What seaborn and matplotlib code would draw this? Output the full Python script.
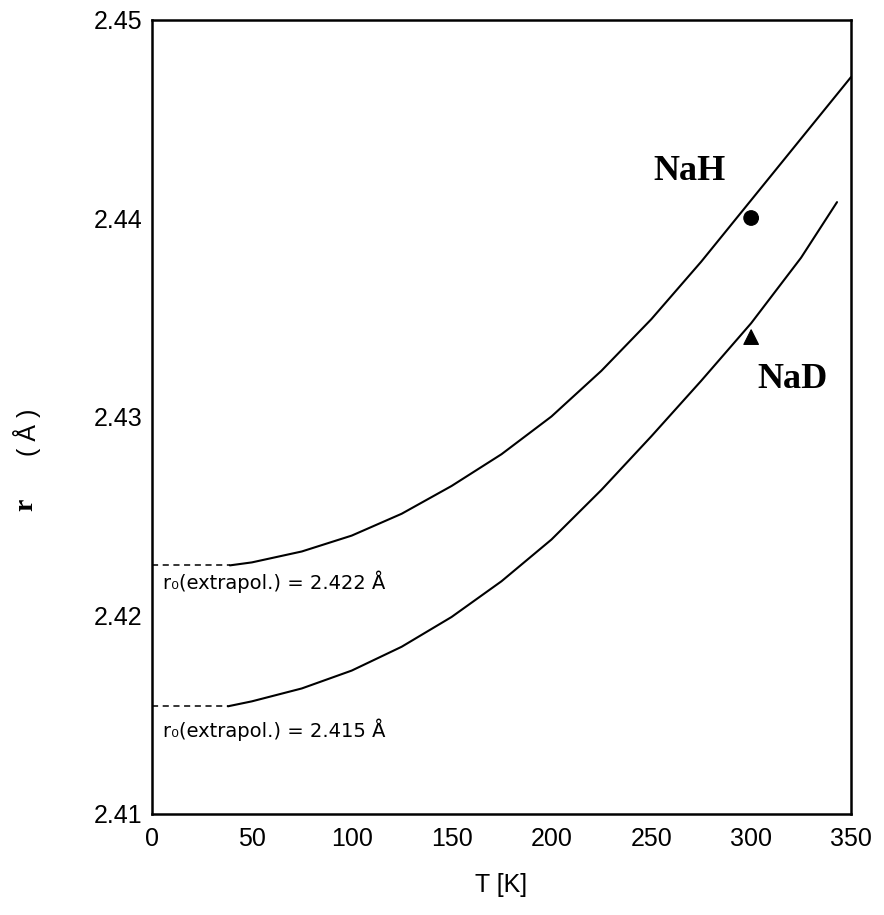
import numpy as np
import pandas as pd
import matplotlib
matplotlib.use("Agg")
import matplotlib.pyplot as plt
import seaborn as sns

# ---- data ----
T_nah = [39, 50, 75, 100, 125, 150, 175, 200, 225, 250, 275, 300, 325, 350]
r_nah = [2.4225, 2.42265, 2.4232, 2.4240, 2.4251, 2.4265, 2.4281, 2.4300,
         2.4323, 2.4349, 2.4378, 2.4409, 2.4440, 2.4471]
T_nad = [38, 50, 75, 100, 125, 150, 175, 200, 225, 250, 275, 300, 325, 343]
r_nad = [2.4154, 2.41565, 2.4163, 2.4172, 2.4184, 2.4199, 2.4217, 2.4238,
         2.4263, 2.4290, 2.4318, 2.4347, 2.4380, 2.4408]
T_ext_nah = [0, 39]
r_ext_nah = [2.4225, 2.4225]
T_ext_nad = [0, 38]
r_ext_nad = [2.4154, 2.4154]
T_exp = [300, 300]
r_exp = [2.4400, 2.4340]
exp_labels = ["NaH", "NaD"]
x_ticks = [0, 50, 100, 150, 200, 250, 300, 350]
y_ticks = [2.41, 2.42, 2.43, 2.44, 2.45]

sns.set_theme(style="white")
plt.rcParams['font.family'] = ['Liberation Sans', 'DejaVu Sans']

fig = plt.figure(figsize=(8.84, 9.15), dpi=100)
ax = fig.add_axes([152/884, 1-813.5/915, 699/884, 794/915])

df_nah = pd.DataFrame({"T": T_nah, "r": r_nah})
df_nad = pd.DataFrame({"T": T_nad, "r": r_nad})
sns.lineplot(data=df_nah, x="T", y="r", ax=ax, color="black", lw=1.5, sort=False)
sns.lineplot(data=df_nad, x="T", y="r", ax=ax, color="black", lw=1.5, sort=False)
sns.lineplot(x=T_ext_nah, y=r_ext_nah, ax=ax, color="black", lw=1.1,
             linestyle=(0, (4, 3)))
sns.lineplot(x=T_ext_nad, y=r_ext_nad, ax=ax, color="black", lw=1.1,
             linestyle=(0, (4, 3)))
df_exp = pd.DataFrame({"T": T_exp, "r": r_exp, "s": exp_labels})
sns.scatterplot(data=df_exp, x="T", y="r", style="s", markers={"NaH": "o", "NaD": "^"},
                color="black", s=110, ax=ax, legend=False, edgecolor="black")

ax.set_xlim(0, 350)
ax.set_ylim(2.41, 2.45)
ax.set_xticks(x_ticks)
ax.set_yticks(y_ticks)
ax.set_xticklabels([str(t) for t in x_ticks])
ax.set_yticklabels([f"{t:.2f}" for t in y_ticks])
ax.tick_params(axis="both", direction="in", length=9, width=1.4, labelsize=18,
               color="black", labelcolor="black")
ax.tick_params(axis="x", pad=10)
ax.tick_params(axis="y", pad=7)
for sp in ax.spines.values():
    sp.set_visible(True)
    sp.set_color("black")
    sp.set_linewidth(1.8)

ax.set_xlabel("T [K]", fontsize=18, color="black")
ax.xaxis.set_label_coords(0.5, -0.075)
ax.set_ylabel("")

# y label pieces
ax.text(-0.179, 0.48, "( Å )", transform=ax.transAxes, rotation=90,
        ha="center", va="center", fontsize=18, color="black")
ax.text(-0.181, 0.389, "r", transform=ax.transAxes, rotation=90,
        ha="center", va="center", fontsize=20, fontweight="bold",
        family="Liberation Serif", color="black")

# curve labels
ax.text(268.9, 2.44232, "NaH", ha="center", va="center", fontsize=26,
        fontweight="bold", family="Liberation Serif", color="black")
ax.text(320.5, 2.43184, "NaD", ha="center", va="center", fontsize=26,
        fontweight="bold", family="Liberation Serif", color="black")

# extrapolation annotations
ax.text(5.5, 2.42166, "r₀(extrapol.) = 2.422 Å", ha="left", va="center",
        fontsize=14, color="black", family="DejaVu Sans")
ax.text(5.5, 2.41421, "r₀(extrapol.) = 2.415 Å", ha="left", va="center",
        fontsize=14, color="black", family="DejaVu Sans")

fig.savefig("out.png", dpi=100, facecolor="white")
